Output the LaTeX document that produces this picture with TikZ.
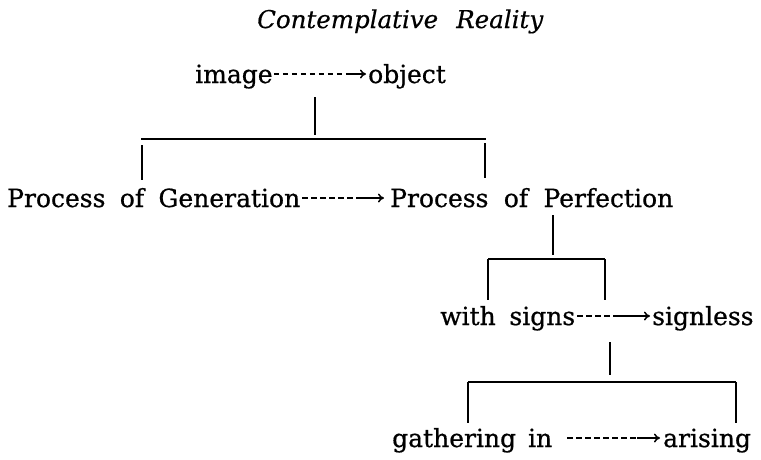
\documentclass[tikz,border=0pt]{standalone}
\usepackage{fontspec}
\setmainfont{DejaVu Serif}
\newfontfamily\lblfont{DejaVu Serif}[FakeBold=0.7]
\newfontfamily\ttlfont{DejaVu Serif Italic}[FakeBold=0.5]
\usetikzlibrary{arrows.meta,calc}
\begin{document}
\begin{tikzpicture}[x=1pt,y=-1pt,
  lbl/.style={inner sep=0pt,anchor=base west,font=\lblfont\fontsize{25}{28}\selectfont},
  ttl/.style={inner sep=0pt,anchor=base west,font=\ttlfont\fontsize{24.5}{27}\selectfont},
  dashpart/.style={line width=1.4pt,dash pattern=on 5.5pt off 3.5pt},
  tippart/.style={line width=1.5pt,-{To[length=6pt,width=9pt]}},
  treeline/.style={line width=1.4pt}]
\useasboundingbox (0,0) rectangle (761,459);
\node[ttl] (title) at (257,28) {\makebox[286pt][s]{Contemplative Reality}};
% level 1
\node[lbl] (image) at (195,83) {image};
\node[lbl] (object) at (368,83) {object};
\coordinate (a1) at ($(image.base east)+(1pt,9pt)$);
\coordinate (m1) at ($(object.base west)+(-20pt,9pt)$);
\coordinate (e1) at ($(object.base west)+(-2pt,9pt)$);
\draw[dashpart] (a1) -- (m1);
\draw[tippart] (m1) -- (e1);
\coordinate (t1) at (315,97);
\coordinate (b1) at (315,135);
\coordinate (l1) at (141,139);
\coordinate (r1) at (486,139);
\draw[treeline] (t1) -- (b1);
\draw[treeline] (l1) -- (r1);
\draw[treeline] (142,145) -- (142,180);
\draw[treeline] (485,143) -- (485,178);
% level 2
\node[lbl] (gen) at (7,207) {\makebox[293pt][s]{Process of Generation}};
\node[lbl] (perf) at (390,207) {\makebox[283pt][s]{Process of Perfection}};
\coordinate (a2) at ($(gen.base east)+(2pt,9pt)$);
\coordinate (m2) at ($(perf.base west)+(-30pt,9pt)$);
\coordinate (e2) at ($(perf.base west)+(-6pt,9pt)$);
\draw[dashpart] (a2) -- (m2);
\draw[tippart] (m2) -- (e2);
\coordinate (t2) at (553,215);
\coordinate (b2) at (553,255);
\coordinate (l2) at (488,259);
\coordinate (r2) at (605,259);
\draw[treeline] (t2) -- (b2);
\draw[treeline] (l2) -- (r2);
\draw[treeline] (l2) -- ++(0,41);
\draw[treeline] (r2) -- ++(0,41);
% level 3
\node[lbl] (with) at (440,325) {\makebox[135pt][s]{with signs}};
\node[lbl] (signless) at (652,325) {signless};
\coordinate (a3) at ($(with.base east)+(2pt,9pt)$);
\coordinate (m3) at ($(signless.base west)+(-36pt,9pt)$);
\coordinate (e3) at ($(signless.base west)+(-2pt,9pt)$);
\draw[dashpart] (a3) -- (m3);
\draw[tippart] (m3) -- (e3);
\coordinate (t3) at (610,342);
\coordinate (b3) at (610,375);
\coordinate (l3) at (468,382);
\coordinate (r3) at (736,382);
\draw[treeline] (t3) -- (b3);
\draw[treeline] (l3) -- (r3);
\draw[treeline] (l3) -- ++(0,41);
\draw[treeline] (r3) -- ++(0,41);
% level 4
\node[lbl] (gather) at (392,447) {\makebox[160pt][s]{gathering in}};
\node[lbl] (arising) at (663,447) {arising};
\coordinate (a4) at ($(gather.base east)+(15pt,9pt)$);
\coordinate (m4) at ($(arising.base west)+(-26pt,9pt)$);
\coordinate (e4) at ($(arising.base west)+(-3pt,9pt)$);
\draw[dashpart] (a4) -- (m4);
\draw[tippart] (m4) -- (e4);
\end{tikzpicture}
\end{document}
